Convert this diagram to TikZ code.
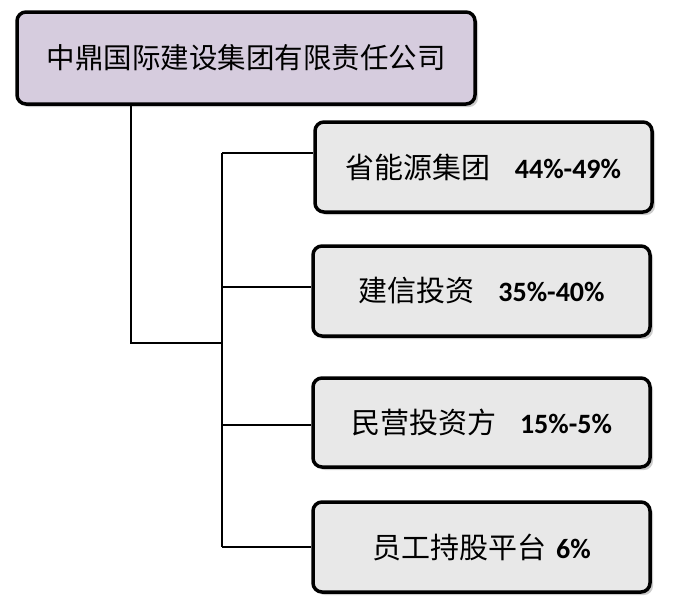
\documentclass[tikz,border=0pt]{standalone}
\usepackage{fontspec}
\setmainfont{Carlito}
\newfontfamily\cjk{Noto Sans CJK SC}
\usetikzlibrary{shadows}
\begin{document}
\begin{tikzpicture}[x=1pt,y=-1pt,
  box/.style={draw=black,line width=3.5pt,rounded corners=9pt,inner sep=0pt,
    drop shadow={shadow xshift=3pt,shadow yshift=-3pt,fill=black!40}},
  topbox/.style={box,fill={rgb,255:red,214;green,204;blue,222}},
  subbox/.style={box,fill={rgb,255:red,232;green,232;blue,232}},
  conn/.style={line width=1.8pt}]
\useasboundingbox (0,0) rectangle (688,605);
\node[topbox,minimum width=458pt,minimum height=92pt] (top) at (246,58)
  {\fontsize{28.5}{32}\selectfont\cjk 中鼎国际建设集团有限责任公司};
\node[subbox,minimum width=337pt,minimum height=90pt] (b1) at (483.5,167)
  {\fontsize{29}{32}\selectfont{\cjk 省能源集团}\hspace{24pt}{\fontsize{28}{32}\selectfont\textbf{44\%-49\%}}};
\node[subbox,minimum width=337pt,minimum height=90pt] (b2) at (481.5,291)
  {\fontsize{29}{32}\selectfont{\cjk 建信投资}\hspace{24pt}{\fontsize{28}{32}\selectfont\textbf{35\%-40\%}}};
\node[subbox,minimum width=337pt,minimum height=89pt] (b3) at (481.5,422.5)
  {\fontsize{29}{32}\selectfont{\cjk 民营投资方}\hspace{24pt}{\fontsize{28}{32}\selectfont\textbf{15\%-5\%}}};
\node[subbox,minimum width=337pt,minimum height=90pt] (b4) at (481.5,547)
  {\fontsize{29}{32}\selectfont{\cjk 员工持股平台}\hspace{10pt}{\fontsize{28}{32}\selectfont\textbf{6\%}}};
\coordinate (tb) at (131,104);
\coordinate (j) at (131,343);
\coordinate (t) at (222,153);
\coordinate (b) at (222,547);
\draw[conn] (top.south -| tb) -- (j) -- (j -| t);
\draw[conn] (t) -- (b);
\draw[conn] (t) -- (b1.west |- t);
\draw[conn] (222,287) -- (b2.west |- 222,287);
\draw[conn] (222,425) -- (b3.west |- 222,425);
\draw[conn] (b) -- (b4.west);
\end{tikzpicture}
\end{document}
